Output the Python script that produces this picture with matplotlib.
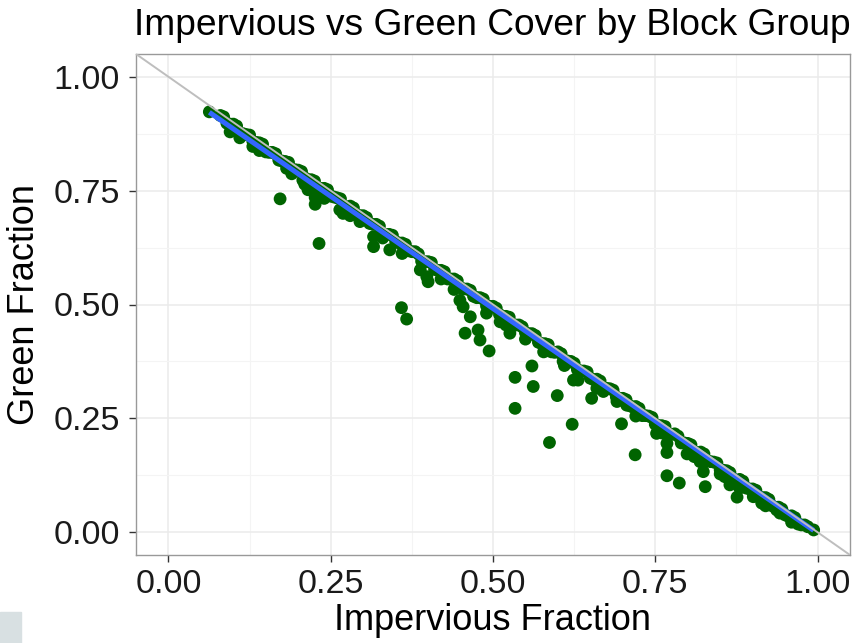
import numpy as np
import matplotlib
matplotlib.use('Agg')
import matplotlib.pyplot as plt
from matplotlib.patches import Rectangle

plt.rcParams['font.family'] = ['Liberation Sans', 'DejaVu Sans']

# Band of block groups lying close to the green = 1 - impervious line
band_x = [0.08, 0.10, 0.12, 0.14, 0.16, 0.18, 0.20, 0.22, 0.24, 0.26, 0.28, 0.30,
          0.32, 0.34, 0.36, 0.38, 0.40, 0.42, 0.44, 0.46, 0.48, 0.50, 0.52, 0.54,
          0.56, 0.58, 0.60, 0.62, 0.64, 0.66, 0.68, 0.70, 0.72, 0.74, 0.76, 0.78,
          0.80, 0.82, 0.84, 0.86, 0.88, 0.90, 0.92, 0.94, 0.96, 0.98,
          0.09, 0.11, 0.13, 0.15, 0.17, 0.19, 0.21, 0.23, 0.25, 0.27, 0.29, 0.31,
          0.33, 0.35, 0.37, 0.39, 0.41, 0.43, 0.45, 0.47, 0.49, 0.51, 0.53, 0.55,
          0.57, 0.59, 0.61, 0.63, 0.65, 0.67, 0.69, 0.71, 0.73, 0.75, 0.77, 0.79,
          0.81, 0.83, 0.85, 0.87, 0.89, 0.91, 0.93, 0.95, 0.97,
          0.085, 0.105, 0.125, 0.145, 0.165, 0.185, 0.205, 0.225, 0.245, 0.265, 0.285, 0.305,
          0.325, 0.345, 0.365, 0.385, 0.405, 0.425, 0.445, 0.465, 0.485, 0.505, 0.525, 0.545,
          0.565, 0.585, 0.605, 0.625, 0.645, 0.665, 0.685, 0.705, 0.725, 0.745, 0.765, 0.785,
          0.805, 0.825, 0.845, 0.865, 0.885, 0.905, 0.925, 0.945, 0.965, 0.985,
          0.095, 0.115, 0.135, 0.155, 0.175, 0.195, 0.215, 0.235, 0.255, 0.275, 0.295, 0.315,
          0.335, 0.355, 0.375, 0.395, 0.415, 0.435, 0.455, 0.475, 0.495, 0.515, 0.535, 0.555,
          0.575, 0.595, 0.615, 0.635, 0.655, 0.675, 0.695, 0.715, 0.735, 0.755, 0.775, 0.795,
          0.815, 0.835, 0.855, 0.875, 0.895, 0.915, 0.935, 0.955, 0.975,
          0.11, 0.14, 0.19, 0.21, 0.24, 0.28, 0.33, 0.36, 0.42, 0.44, 0.52, 0.55,
          0.58, 0.61, 0.66, 0.72, 0.76, 0.81, 0.85, 0.88, 0.92, 0.96]
band_y = [0.915, 0.896, 0.873, 0.855, 0.834, 0.814, 0.795, 0.774, 0.755, 0.734, 0.716, 0.695,
          0.676, 0.654, 0.635, 0.616, 0.594, 0.575, 0.556, 0.534, 0.515, 0.496, 0.474, 0.455,
          0.436, 0.414, 0.396, 0.375, 0.354, 0.336, 0.315, 0.294, 0.276, 0.255, 0.234, 0.216,
          0.195, 0.176, 0.154, 0.135, 0.116, 0.095, 0.076, 0.055, 0.036, 0.016,
          0.898, 0.876, 0.858, 0.835, 0.817, 0.795, 0.778, 0.756, 0.738, 0.714, 0.697, 0.678,
          0.655, 0.638, 0.618, 0.595, 0.577, 0.556, 0.537, 0.518, 0.497, 0.478, 0.455, 0.438,
          0.417, 0.396, 0.377, 0.357, 0.338, 0.316, 0.297, 0.278, 0.256, 0.237, 0.217, 0.196,
          0.177, 0.157, 0.137, 0.117, 0.097, 0.077, 0.058, 0.038, 0.018,
          0.912, 0.892, 0.872, 0.852, 0.831, 0.812, 0.792, 0.771, 0.752, 0.732, 0.712, 0.691,
          0.672, 0.652, 0.632, 0.611, 0.592, 0.572, 0.552, 0.531, 0.512, 0.492, 0.472, 0.451,
          0.432, 0.412, 0.392, 0.371, 0.352, 0.332, 0.312, 0.291, 0.272, 0.252, 0.232, 0.211,
          0.192, 0.172, 0.152, 0.131, 0.112, 0.092, 0.072, 0.051, 0.032, 0.012,
          0.896, 0.875, 0.856, 0.834, 0.815, 0.796, 0.774, 0.755, 0.736, 0.714, 0.695, 0.676,
          0.654, 0.635, 0.616, 0.594, 0.575, 0.556, 0.534, 0.515, 0.496, 0.474, 0.455, 0.436,
          0.414, 0.395, 0.376, 0.354, 0.335, 0.316, 0.294, 0.275, 0.256, 0.234, 0.215, 0.196,
          0.174, 0.155, 0.136, 0.114, 0.095, 0.076, 0.054, 0.035, 0.016,
          0.866, 0.838, 0.787, 0.764, 0.733, 0.695, 0.646, 0.612, 0.556, 0.533, 0.455, 0.424,
          0.398, 0.366, 0.316, 0.255, 0.218, 0.166, 0.128, 0.097, 0.058, 0.022]

# Block groups further below the line
off_x = [0.063, 0.095, 0.130, 0.172, 0.182, 0.207, 0.215, 0.226, 0.226, 0.232, 0.264,
         0.269, 0.295, 0.316, 0.316, 0.341, 0.359, 0.367, 0.388, 0.398, 0.400, 0.449,
         0.454, 0.457, 0.465, 0.477, 0.480, 0.490, 0.494, 0.511, 0.526, 0.534, 0.534,
         0.560, 0.562, 0.578, 0.587, 0.599, 0.608, 0.622, 0.624, 0.631, 0.652, 0.670,
         0.691, 0.698, 0.706, 0.719, 0.752, 0.768, 0.768, 0.768, 0.787, 0.799, 0.819,
         0.824, 0.827, 0.857, 0.865, 0.876, 0.901, 0.914, 0.937, 0.942, 0.994]
off_y = [0.923, 0.879, 0.847, 0.732, 0.799, 0.773, 0.752, 0.735, 0.720, 0.634, 0.708,
         0.700, 0.682, 0.649, 0.627, 0.620, 0.493, 0.468, 0.576, 0.561, 0.550, 0.509,
         0.495, 0.437, 0.473, 0.444, 0.422, 0.481, 0.398, 0.462, 0.437, 0.340, 0.272,
         0.365, 0.320, 0.396, 0.197, 0.300, 0.375, 0.237, 0.334, 0.334, 0.294, 0.309,
         0.287, 0.238, 0.279, 0.170, 0.217, 0.195, 0.175, 0.124, 0.108, 0.172, 0.155,
         0.133, 0.100, 0.122, 0.104, 0.077, 0.078, 0.064, 0.049, 0.042, 0.005]

# fitted (lm) line: end points
fit_x = [0.063, 0.994]
fit_y = [0.922, 0.004]

impervious = band_x + off_x
green = band_y + off_y

fig = plt.figure(figsize=(8.57, 6.43), dpi=100)
ax = fig.add_axes([136 / 857, 1 - 555 / 643, 714 / 857, 501 / 643])

ax.scatter(impervious, green, s=85, color='#006400', edgecolors='none', zorder=3)
ax.plot(fit_x, fit_y, color='#3366FF', lw=3.6, zorder=4, solid_capstyle='butt')

# reference line green = 1 - impervious
ax.axline((0, 1), slope=-1, color='#BEBEBE', lw=1.4, zorder=5)

ax.set_xlim(-0.05, 1.05)
ax.set_ylim(-0.05, 1.05)
ticks = [0.0, 0.25, 0.5, 0.75, 1.0]
tick_labels = ['0.00', '0.25', '0.50', '0.75', '1.00']
ax.set_xticks(ticks, tick_labels)
ax.set_yticks(ticks, tick_labels)
ax.set_xticks([0.125, 0.375, 0.625, 0.875], minor=True)
ax.set_yticks([0.125, 0.375, 0.625, 0.875], minor=True)
ax.grid(True, which='major', color='#EBEBEB', lw=1.1, zorder=0)
ax.grid(True, which='minor', color='#F4F4F4', lw=0.8, zorder=0)
ax.set_axisbelow(True)
ax.tick_params(which='major', length=5, width=1, color='#333333', labelsize=24.5,
               labelcolor='#1a1a1a', pad=5)
ax.tick_params(axis='y', pad=6.5)
ax.tick_params(which='minor', length=0)
for sp in ax.spines.values():
    sp.set_color('#999999')
    sp.set_linewidth(1)

ax.set_xlabel('Impervious Fraction', fontsize=26)
ax.set_ylabel('Green Fraction', fontsize=26)
ax.xaxis.set_label_coords(0.5, (555 - 603) / 501)
ax.yaxis.set_label_coords((42 - 136) / 714, 0.5)
fig.text(134 / 857, 1 - 35 / 643, 'Impervious vs Green Cover by Block Group',
         fontsize=26.7, ha='left', va='baseline')

fig.patches.append(Rectangle((0, 0), 21 / 857, 31 / 643, transform=fig.transFigure,
                             color='#D8E0E2', zorder=0))

fig.savefig('out.png', dpi=100)
